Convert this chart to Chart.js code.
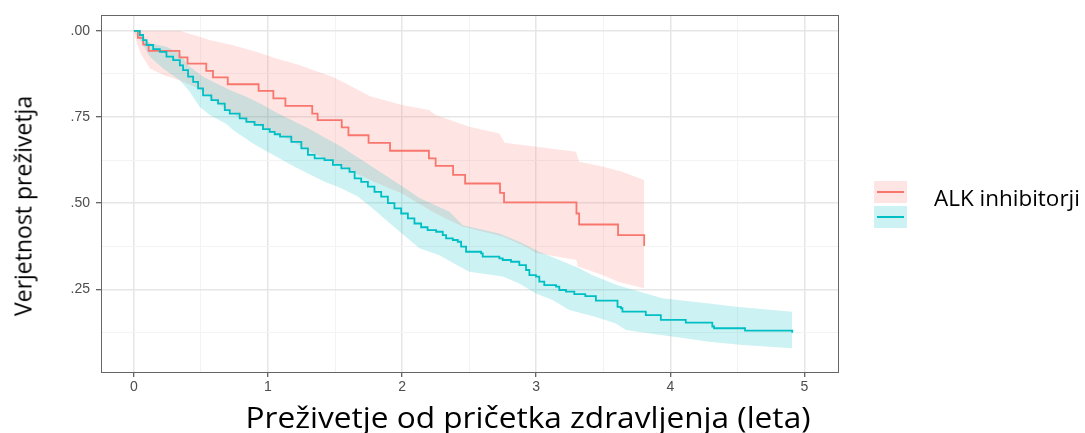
<!DOCTYPE html>
<html lang="sl">
  <head>
    <meta charset="UTF-8" />
    <title>Preživetje</title>
    <script src="https://cdn.jsdelivr.net/npm/chart.js"></script>
    <style>
      body {
        margin: 0;
        background-color: #ffffff;
      }

      #wrap {
        position: relative;
        width: 1085px;
        height: 433px;
        overflow: hidden;
        font-family: "Open Sans", sans-serif;
      }

      #survChart {
        position: absolute;
        left: 0;
        top: 0;
      }

      .title {
        position: absolute;
        line-height: 1;
        color: #000;
        white-space: nowrap;
      }

      #xTitle {
        left: 528px;
        top: 402px;
        font-size: 29px;
        transform: translateX(-50%) scaleX(1.09);
      }

      #yTitle {
        left: 23px;
        top: 206px;
        font-size: 23px;
        transform: translate(-50%, -50%) rotate(-90deg);
      }

      #legendText {
        left: 934px;
        top: 188px;
        font-size: 21px;
        transform-origin: left center;
        transform: scaleX(1.07);
      }

      .key {
        position: absolute;
        left: 874px;
        width: 33px;
        height: 22px;
      }

      .key span {
        position: absolute;
        left: 3px;
        right: 3px;
        top: 10px;
        height: 2px;
      }

      #keyAlk {
        top: 181px;
        background-color: #fee4e2;
      }

      #keyAlk span {
        background-color: #f8766d;
      }

      #keyOther {
        top: 206px;
        background-color: #ccf2f3;
      }

      #keyOther span {
        background-color: #00bfc4;
      }
    </style>
  </head>
  <body>
    <div id="wrap">
      <canvas id="survChart" width="1085" height="433"></canvas>
      <div class="title" id="yTitle">Verjetnost preživetja</div>
      <div class="title" id="xTitle">Preživetje od pričetka zdravljenja (leta)</div>
      <div class="key" id="keyAlk"><span></span></div>
      <div class="key" id="keyOther"><span></span></div>
      <div class="title" id="legendText">ALK inhibitorji</div>
    </div>

    <script>
      // ALK inhibitorji: Kaplan-Meier krivulja (čas v letih, delež preživelih)
      const alkTime = [0, 0.03, 0.07, 0.11, 0.34, 0.4, 0.54, 0.59, 0.7, 0.93, 1.04, 1.13, 1.33, 1.37, 1.55, 1.6, 1.75, 1.91, 2.2, 2.25, 2.38, 2.47, 2.73, 2.76, 3.3, 3.32, 3.61, 3.805];
      const alkSurv = [1, 0.98, 0.96, 0.942, 0.923, 0.905, 0.884, 0.865, 0.845, 0.826, 0.804, 0.782, 0.76, 0.741, 0.72, 0.697, 0.675, 0.652, 0.63, 0.608, 0.582, 0.557, 0.53, 0.502, 0.47, 0.438, 0.407, 0.376];

      // interval zaupanja za ALK
      const alkHiTime = [0, 0.34, 0.49, 0.57, 0.74, 0.91, 1.06, 1.24, 1.34, 1.48, 1.58, 1.76, 2.0, 2.2, 2.25, 2.5, 2.725, 2.765, 3.0, 3.296, 3.32, 3.49, 3.64, 3.805];
      const alkHi = [1, 1, 0.983, 0.973, 0.958, 0.939, 0.92, 0.9, 0.886, 0.867, 0.847, 0.81, 0.785, 0.77, 0.756, 0.722, 0.702, 0.675, 0.664, 0.649, 0.62, 0.606, 0.591, 0.567];
      const alkLoTime = [0, 0.02, 0.057, 0.12, 0.22, 0.34, 0.47, 0.59, 0.715, 0.84, 1.05, 1.3, 1.55, 1.79, 2.0, 2.25, 2.45, 2.75, 2.92, 3.0, 3.3, 3.31, 3.49, 3.61, 3.805];
      const alkLo = [1, 0.968, 0.93, 0.891, 0.872, 0.857, 0.835, 0.8, 0.765, 0.738, 0.707, 0.653, 0.606, 0.562, 0.528, 0.47, 0.432, 0.403, 0.374, 0.355, 0.335, 0.316, 0.292, 0.272, 0.253];

      // primerjalna skupina
      const otherTime = [0, 0.045, 0.069, 0.095, 0.144, 0.194, 0.243, 0.293, 0.343, 0.367, 0.404, 0.442, 0.479, 0.516, 0.578, 0.628, 0.678, 0.715, 0.789, 0.839, 0.9, 0.963, 1.013, 1.05, 1.09, 1.174, 1.249, 1.298, 1.348, 1.422, 1.484, 1.547, 1.608, 1.646, 1.695, 1.745, 1.794, 1.844, 1.894, 1.943, 1.993, 2.043, 2.092, 2.142, 2.19, 2.254, 2.303, 2.328, 2.378, 2.415, 2.44, 2.477, 2.589, 2.601, 2.725, 2.75, 2.812, 2.874, 2.924, 2.949, 2.998, 3.023, 3.06, 3.148, 3.172, 3.222, 3.284, 3.366, 3.445, 3.606, 3.631, 3.643, 3.817, 3.929, 4.115, 4.313, 4.326, 4.557, 4.909];
      const otherSurv = [1, 0.988, 0.973, 0.959, 0.947, 0.939, 0.925, 0.915, 0.9, 0.886, 0.867, 0.852, 0.833, 0.813, 0.799, 0.789, 0.77, 0.76, 0.746, 0.736, 0.727, 0.715, 0.707, 0.7, 0.693, 0.678, 0.659, 0.64, 0.63, 0.625, 0.611, 0.601, 0.591, 0.572, 0.562, 0.548, 0.533, 0.519, 0.5, 0.485, 0.47, 0.456, 0.441, 0.43, 0.422, 0.417, 0.407, 0.398, 0.393, 0.388, 0.374, 0.359, 0.354, 0.345, 0.34, 0.335, 0.33, 0.32, 0.306, 0.291, 0.287, 0.272, 0.262, 0.258, 0.248, 0.243, 0.236, 0.23, 0.217, 0.199, 0.195, 0.185, 0.175, 0.161, 0.153, 0.142, 0.137, 0.13, 0.124];

      const otherHiTime = [0, 0.12, 0.243, 0.343, 0.404, 0.516, 0.616, 0.715, 0.839, 0.963, 1.05, 1.298, 1.547, 1.794, 2.043, 2.129, 2.353, 2.452, 2.725, 2.874, 3.023, 3.321, 3.42, 3.606, 3.94, 4.29, 4.49, 4.909];
      const otherHi = [1, 0.964, 0.954, 0.934, 0.9, 0.867, 0.847, 0.828, 0.809, 0.785, 0.765, 0.717, 0.664, 0.601, 0.538, 0.515, 0.475, 0.436, 0.412, 0.388, 0.359, 0.311, 0.291, 0.262, 0.224, 0.209, 0.199, 0.185];
      const otherLoTime = [0, 0.06, 0.12, 0.218, 0.343, 0.417, 0.49, 0.566, 0.69, 0.74, 0.888, 1.04, 1.174, 1.298, 1.422, 1.547, 1.67, 1.794, 1.943, 2.129, 2.278, 2.427, 2.502, 2.75, 2.874, 2.998, 3.122, 3.246, 3.432, 3.594, 3.668, 3.917, 4.29, 4.537, 4.909];
      const otherLo = [1, 0.965, 0.925, 0.891, 0.857, 0.823, 0.78, 0.756, 0.73, 0.712, 0.673, 0.64, 0.611, 0.586, 0.562, 0.543, 0.519, 0.48, 0.43, 0.369, 0.349, 0.316, 0.301, 0.287, 0.267, 0.238, 0.219, 0.19, 0.171, 0.151, 0.132, 0.118, 0.098, 0.088, 0.079];

      // osi
      const xTickValues = [0, 1, 2, 3, 4, 5];
      const xTickLabels = ["0", "1", "2", "3", "4", "5"];
      const xMinorTicks = [0.5, 1.5, 2.5, 3.5, 4.5];
      const yTickValues = [0.25, 0.5, 0.75, 1];
      const yTickLabels = [".25", ".50", ".75", ".00"];
      const yMinorTicks = [0.125, 0.375, 0.625, 0.875];

      const RED = "#F8766D";
      const TEAL = "#00BFC4";

      function toPoints(times, values) {
        return times.map((t, i) => ({ x: t, y: values[i] }));
      }

      function buildTicks(major, minor) {
        return [...major, ...minor].sort((a, b) => a - b).map((v) => ({ value: v }));
      }

      function curve(times, values, color) {
        return {
          data: toPoints(times, values),
          borderColor: color,
          borderWidth: 1.8,
          pointRadius: 0,
          stepped: "before",
          fill: false,
        };
      }

      function band(times, values, fillColor, fillTo) {
        return {
          data: toPoints(times, values),
          borderWidth: 0,
          borderColor: "transparent",
          backgroundColor: fillColor,
          pointRadius: 0,
          tension: 0,
          fill: fillTo,
        };
      }

      // okvir panela
      const panelBorder = {
        id: "panelBorder",
        afterDraw(chart) {
          const { ctx, chartArea: a } = chart;
          ctx.save();
          ctx.strokeStyle = "#666";
          ctx.lineWidth = 1;
          ctx.strokeRect(a.left + 0.5, a.top + 0.5, a.right - a.left, a.bottom - a.top);
          ctx.restore();
        },
      };

      function gridColor(ctx, major) {
        return major.includes(ctx.tick.value) ? "#e6e6e6" : "#f3f3f3";
      }

      function initChart() {
        const c = document.getElementById("survChart");
        new Chart(c, {
          type: "line",
          data: {
            datasets: [
              curve(otherTime, otherSurv, TEAL),
              curve(alkTime, alkSurv, RED),
              band(otherHiTime, otherHi, "rgba(0, 191, 196, 0.2)", "+1"),
              band(otherLoTime, otherLo, "transparent", false),
              band(alkHiTime, alkHi, "rgba(248, 118, 109, 0.2)", "+1"),
              band(alkLoTime, alkLo, "transparent", false),
            ],
          },
          options: {
            responsive: false,
            animation: false,
            layout: { padding: { left: 0, top: 15, right: 247, bottom: 0 } },
            plugins: {
              legend: { display: false },
              tooltip: { enabled: false },
            },
            scales: {
              x: {
                type: "linear",
                min: -0.245,
                max: 5.25,
                afterBuildTicks: (s) => {
                  s.ticks = buildTicks(xTickValues, xMinorTicks);
                },
                afterFit: (s) => {
                  s.height = 61;
                },
                ticks: {
                  autoSkip: false,
                  maxRotation: 0,
                  padding: 2,
                  color: "#4d4d4d",
                  font: { family: "Liberation Sans", size: 14 },
                  callback: (v) => {
                    const i = xTickValues.indexOf(v);
                    return i >= 0 ? xTickLabels[i] : "";
                  },
                },
                grid: {
                  color: (ctx) => gridColor(ctx, xTickValues),
                  lineWidth: (ctx) => (xTickValues.includes(ctx.tick.value) ? 1.5 : 1),
                  tickColor: (ctx) => (xTickValues.includes(ctx.tick.value) ? "#333" : "transparent"),
                  tickLength: 5,
                  tickWidth: 1,
                },
                border: { display: false },
              },
              y: {
                type: "linear",
                min: 0.01,
                max: 1.046,
                afterBuildTicks: (s) => {
                  s.ticks = buildTicks(yTickValues, yMinorTicks);
                },
                afterFit: (s) => {
                  s.width = 101;
                },
                ticks: {
                  autoSkip: false,
                  padding: 6,
                  color: "#4d4d4d",
                  font: { family: "Liberation Sans", size: 14 },
                  callback: (v) => {
                    const i = yTickValues.indexOf(v);
                    return i >= 0 ? yTickLabels[i] : "";
                  },
                },
                grid: {
                  color: (ctx) => gridColor(ctx, yTickValues),
                  lineWidth: (ctx) => (yTickValues.includes(ctx.tick.value) ? 1.5 : 1),
                  tickColor: (ctx) => (yTickValues.includes(ctx.tick.value) ? "#333" : "transparent"),
                  tickLength: 5,
                  tickWidth: 1,
                },
                border: { display: false },
              },
            },
          },
          plugins: [panelBorder],
        });
      }

      initChart();
    </script>
  </body>
</html>
